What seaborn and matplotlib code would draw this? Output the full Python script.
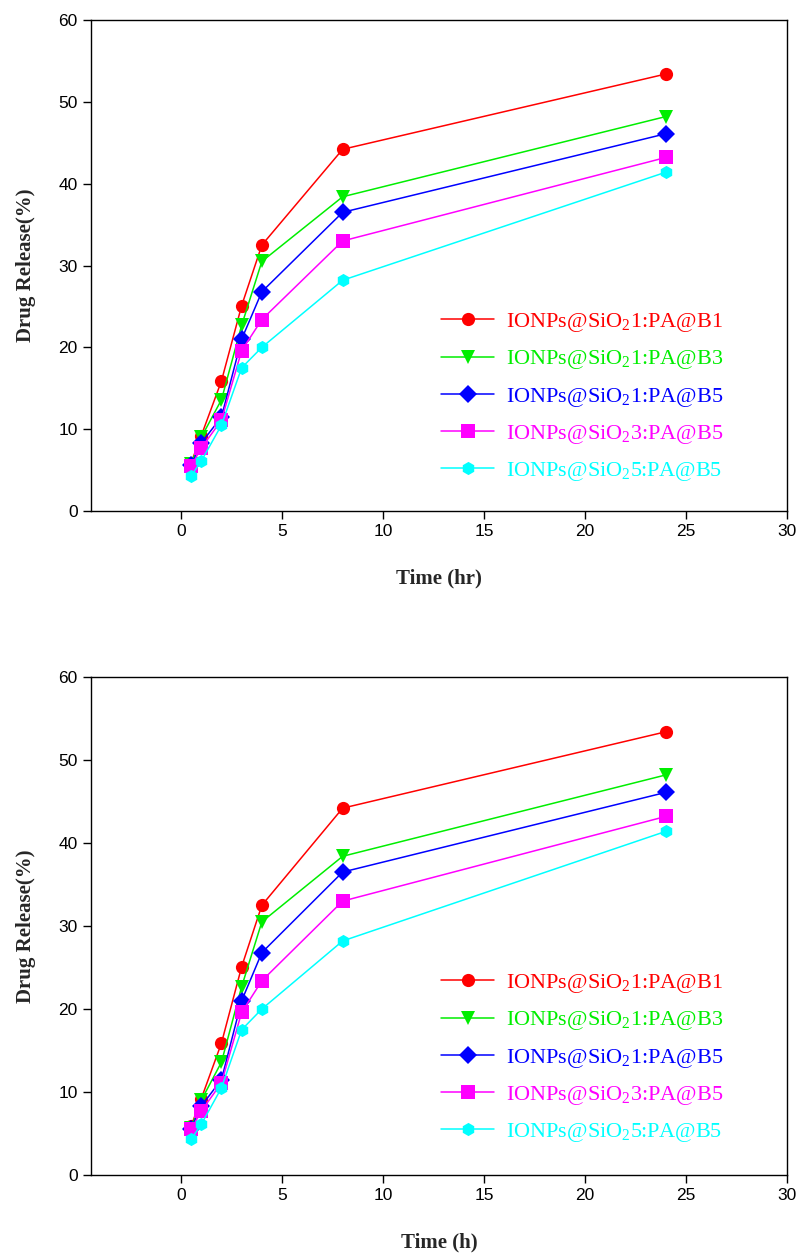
import matplotlib
matplotlib.use("Agg")
import matplotlib.pyplot as plt
import seaborn as sns
import pandas as pd

time_h = [0.5, 1, 2, 3, 4, 8, 24]
labels = [
    r"IONPs@SiO$_2$1:PA@B1",
    r"IONPs@SiO$_2$1:PA@B3",
    r"IONPs@SiO$_2$1:PA@B5",
    r"IONPs@SiO$_2$3:PA@B5",
    r"IONPs@SiO$_2$5:PA@B5",
]
b1 = [5.9, 9.2, 15.9, 25.1, 32.5, 44.2, 53.4]
b3 = [5.7, 9.0, 13.6, 22.7, 30.5, 38.4, 48.2]
b5 = [5.6, 8.3, 11.5, 21.0, 26.8, 36.5, 46.1]
s3b5 = [5.5, 7.7, 11.1, 19.6, 23.4, 33.0, 43.2]
s5b5 = [4.3, 6.1, 10.5, 17.5, 20.0, 28.2, 41.4]
series = [b1, b3, b5, s3b5, s5b5]
colors = ["#ff0000", "#00ee00", "#0000ff", "#ff00ff", "#00ffff"]
markers = ["o", "v", "D", "s", "h"]
xlabels = ["Time (hr)", "Time (h)"]

rows = []
for lab, vals in zip(labels, series):
    for t, v in zip(time_h, vals):
        rows.append({"Time": t, "Release": v, "Sample": lab})
df = pd.DataFrame(rows)

sns.set_style("ticks")
plt.rcParams["mathtext.fontset"] = "custom"
plt.rcParams["mathtext.rm"] = "Liberation Serif"
plt.rcParams["mathtext.it"] = "Liberation Serif:italic"
plt.rcParams["mathtext.bf"] = "Liberation Serif:bold"

fig = plt.figure(figsize=(8.01, 12.59), dpi=100)
W, H = 801, 1259
boxes = [(91, 20, 787, 511), (91, 677, 787, 1175)]

for (x0, y0, x1, y1), xl in zip(boxes, xlabels):
    ax = fig.add_axes([x0 / W, 1 - y1 / H, (x1 - x0) / W, (y1 - y0) / H])
    sns.lineplot(data=df, x="Time", y="Release", hue="Sample", style="Sample",
                 palette=dict(zip(labels, colors)), markers=dict(zip(labels, markers)),
                 dashes=False, markersize=9.5, markeredgewidth=0, linewidth=1.1,
                 ax=ax, legend=False)
    ax.set_xlim(-4.46, 30)
    ax.set_ylim(0, 60)
    ax.set_xticks([0, 5, 10, 15, 20, 25, 30])
    ax.set_yticks([0, 10, 20, 30, 40, 50, 60])
    for s in ax.spines.values():
        s.set_visible(True)
        s.set_color("black")
        s.set_linewidth(1.0)
    ax.tick_params(direction="out", length=6, width=1, top=False, right=False,
                   labelsize=12.5, colors="black")
    for t in ax.get_xticklabels() + ax.get_yticklabels():
        t.set_fontfamily("Liberation Sans")
    ax.set_xlabel(xl, fontfamily="Liberation Serif", fontweight="bold", fontsize=15, labelpad=21)
    ax.set_ylabel("Drug Release(%)", fontfamily="Liberation Serif", fontweight="bold", fontsize=15, labelpad=16)
    handles = [plt.Line2D([], [], color=c, marker=m, markersize=9.5, markeredgewidth=0, linewidth=1.1)
               for c, m in zip(colors, markers)]
    leg = ax.legend(handles, labels, loc="upper left", bbox_to_anchor=(0.49, 0.425),
                    frameon=False, prop={"family": "Liberation Serif", "size": 16},
                    handlelength=2.4, handletextpad=0.55, labelspacing=0.64,
                    labelcolor="linecolor", borderaxespad=0)

fig.savefig("out.png", dpi=100)
